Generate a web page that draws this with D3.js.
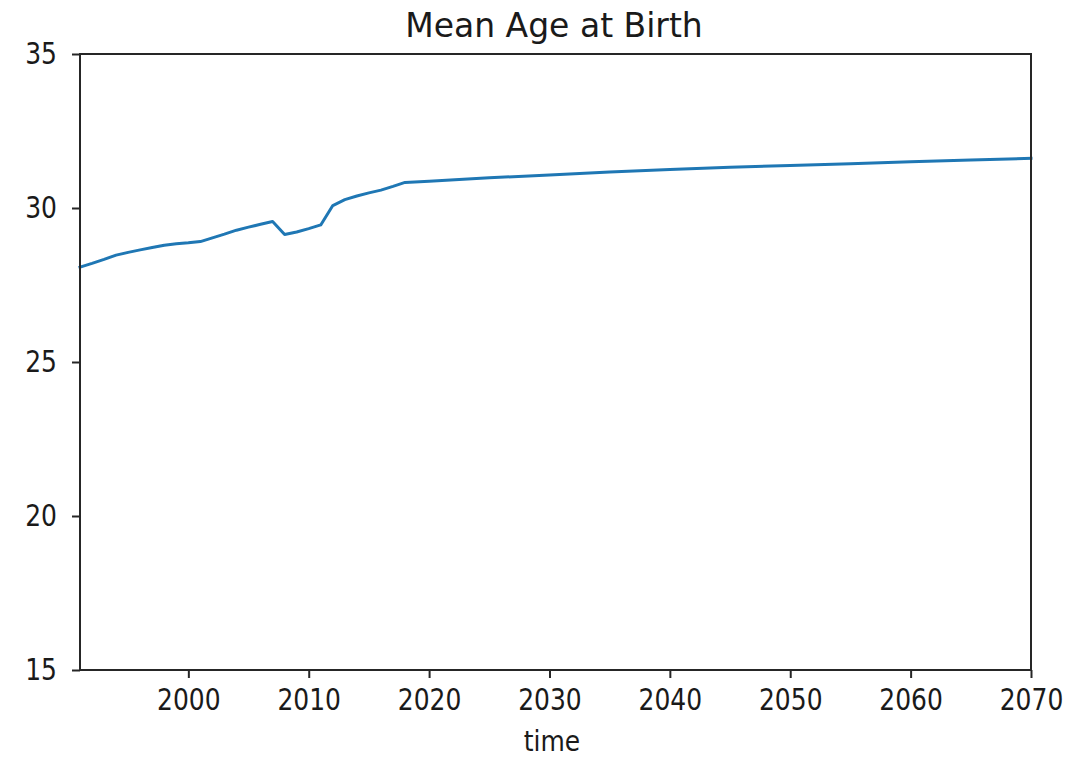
<!DOCTYPE html>
<html>
<head>
<meta charset="utf-8">
<script src="https://cdn.jsdelivr.net/npm/d3@7"></script>
<style>
  html, body { margin: 0; padding: 0; background: #fff; }
  svg { display: block; }
  text { font-family: "DejaVu Sans", sans-serif; fill: #1a1a1a; }
</style>
</head>
<body>
<svg id="chart" width="1092" height="757"></svg>
<script>
// Mean age of mothers at birth, observed and projected
const years = [
  1991, 1992, 1993, 1994, 1995, 1996, 1997, 1998, 1999, 2000,
  2001, 2002, 2003, 2004, 2005, 2006, 2007, 2008, 2009, 2010,
  2011, 2012, 2013, 2014, 2015, 2016, 2017, 2018,
  2020, 2025, 2030, 2035, 2040, 2045, 2050, 2055, 2060, 2065, 2070
];
const meanAge = [
  28.08, 28.20, 28.33, 28.47, 28.56, 28.64, 28.72, 28.79, 28.84, 28.87,
  28.91, 29.03, 29.15, 29.28, 29.38, 29.47, 29.56, 29.14, 29.22, 29.33,
  29.45, 30.08, 30.27, 30.39, 30.49, 30.58, 30.70, 30.83,
  30.87, 30.98, 31.07, 31.17, 31.25, 31.32, 31.38, 31.44, 31.50, 31.56, 31.61
];
const xTicks = [2000, 2010, 2020, 2030, 2040, 2050, 2060, 2070];
const yTicks = [15, 20, 25, 30, 35];

const margin = { left: 80, right: 61, top: 54, bottom: 87 };
const W = 1092, H = 757;
const svg = d3.select("#chart");

const x = d3.scaleLinear().domain([1991, 2070]).range([margin.left, W - margin.right]);
const y = d3.scaleLinear().domain([15, 35]).range([H - margin.bottom, margin.top]);

const axisColor = "#262626";

// Line series
const line = d3.line().x((d, i) => x(years[i])).y(d => y(d));
svg.append("path")
  .datum(meanAge)
  .attr("d", line)
  .attr("fill", "none")
  .attr("stroke", "#1f77b4")
  .attr("stroke-width", 3)
  .attr("stroke-linejoin", "round")
  .attr("stroke-linecap", "square");

// Axes
const xAxis = d3.axisBottom(x).tickValues(xTicks).tickFormat(d3.format("d")).tickSizeOuter(0).tickSize(8).tickPadding(11);
const yAxis = d3.axisLeft(y).tickValues(yTicks).tickFormat(d3.format("d")).tickSizeOuter(0).tickSize(8).tickPadding(15);

const gx = svg.append("g").attr("transform", `translate(0,${H - margin.bottom})`).call(xAxis);
const gy = svg.append("g").attr("transform", `translate(${margin.left},0)`).call(yAxis);

[gx, gy].forEach(g => {
  g.select(".domain").remove();
  g.selectAll(".tick line").attr("stroke", axisColor).attr("stroke-width", 2);
  g.selectAll(".tick text").attr("fill", "#1a1a1a").style("font-size", "25px").style("font-family", "DejaVu Sans");
});
// slightly taller glyphs for tick labels
gx.selectAll(".tick text").attr("transform", "scale(1,1.18)").attr("y", 19 / 1.18);
gy.selectAll(".tick text").attr("transform", "scale(1,1.18)").attr("dy", "0.32em");

// Frame around the plot area
svg.append("rect")
  .attr("x", margin.left).attr("y", margin.top)
  .attr("width", W - margin.right - margin.left)
  .attr("height", H - margin.bottom - margin.top)
  .attr("fill", "none")
  .attr("stroke", axisColor)
  .attr("stroke-width", 2);

// Title and axis label
svg.append("text")
  .attr("x", 554)
  .attr("y", 37)
  .attr("text-anchor", "middle")
  .style("font-size", "33px")
  .text("Mean Age at Birth");

svg.append("text")
  .attr("transform", "translate(552,751) scale(1,1.1)")
  .attr("text-anchor", "middle")
  .style("font-size", "25px")
  .text("time");
</script>
</body>
</html>
